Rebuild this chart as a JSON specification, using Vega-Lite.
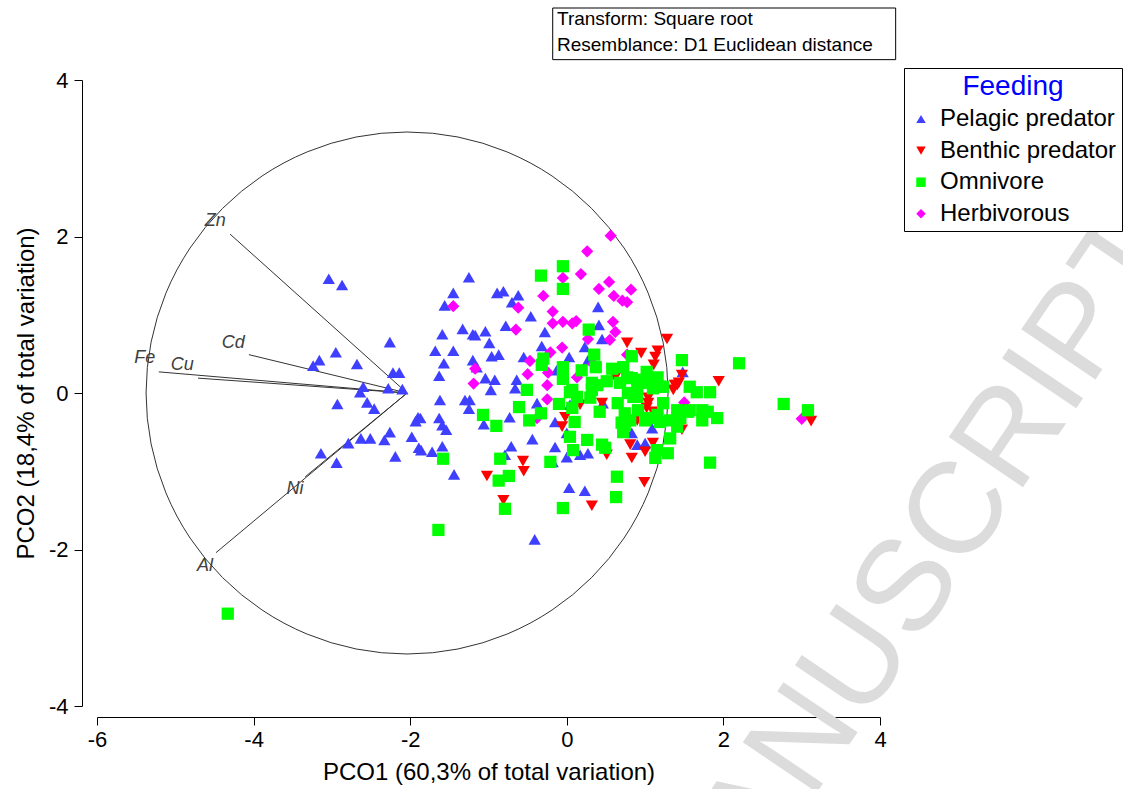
{
  "$schema": "https://vega.github.io/schema/vega-lite/v6.json",
  "width": 783,
  "height": 626,
  "autosize": {"type": "none"},
  "padding": {"left": 97, "top": 80, "right": 243, "bottom": 83},
  "background": "white",
  "config": {
    "view": {"stroke": null},
    "font": "Liberation Sans",
    "axis": {
      "grid": false,
      "domainColor": "black",
      "tickColor": "black",
      "labelColor": "black",
      "titleColor": "black",
      "labelFont": "Liberation Sans",
      "titleFont": "Liberation Sans",
      "labelFontSize": 22,
      "titleFontSize": 24,
      "titleFontWeight": "normal",
      "tickSize": 8,
      "labelFlush": false,
      "labelOverlap": false,
      "labelExpr": "toString(datum.value)"
    }
  },
  "datasets": {
    "pts": [
      {"x": -3.04, "y": 1.46, "g": "Pelagic predator"},
      {"x": -2.87, "y": 1.38, "g": "Pelagic predator"},
      {"x": -2.26, "y": 0.65, "g": "Pelagic predator"},
      {"x": -2.95, "y": 0.52, "g": "Pelagic predator"},
      {"x": -3.16, "y": 0.42, "g": "Pelagic predator"},
      {"x": -3.24, "y": 0.35, "g": "Pelagic predator"},
      {"x": -2.68, "y": 0.37, "g": "Pelagic predator"},
      {"x": -2.22, "y": 0.26, "g": "Pelagic predator"},
      {"x": -2.14, "y": 0.26, "g": "Pelagic predator"},
      {"x": -2.60, "y": 0.08, "g": "Pelagic predator"},
      {"x": -2.64, "y": 0.01, "g": "Pelagic predator"},
      {"x": -2.28, "y": 0.06, "g": "Pelagic predator"},
      {"x": -2.10, "y": 0.05, "g": "Pelagic predator"},
      {"x": -2.93, "y": -0.14, "g": "Pelagic predator"},
      {"x": -2.55, "y": -0.12, "g": "Pelagic predator"},
      {"x": -2.46, "y": -0.20, "g": "Pelagic predator"},
      {"x": -1.90, "y": -0.31, "g": "Pelagic predator"},
      {"x": -1.93, "y": -0.36, "g": "Pelagic predator"},
      {"x": -2.26, "y": -0.50, "g": "Pelagic predator"},
      {"x": -1.98, "y": -0.56, "g": "Pelagic predator"},
      {"x": -1.89, "y": -0.70, "g": "Pelagic predator"},
      {"x": -2.63, "y": -0.58, "g": "Pelagic predator"},
      {"x": -2.51, "y": -0.58, "g": "Pelagic predator"},
      {"x": -2.33, "y": -0.60, "g": "Pelagic predator"},
      {"x": -2.79, "y": -0.64, "g": "Pelagic predator"},
      {"x": -3.14, "y": -0.77, "g": "Pelagic predator"},
      {"x": -2.94, "y": -0.89, "g": "Pelagic predator"},
      {"x": -2.19, "y": -0.81, "g": "Pelagic predator"},
      {"x": -1.25, "y": 1.48, "g": "Pelagic predator"},
      {"x": -1.45, "y": 1.28, "g": "Pelagic predator"},
      {"x": -1.56, "y": 1.12, "g": "Pelagic predator"},
      {"x": -0.89, "y": 1.28, "g": "Pelagic predator"},
      {"x": -0.81, "y": 1.30, "g": "Pelagic predator"},
      {"x": -0.62, "y": 1.25, "g": "Pelagic predator"},
      {"x": -0.70, "y": 1.16, "g": "Pelagic predator"},
      {"x": -0.46, "y": 0.98, "g": "Pelagic predator"},
      {"x": -0.78, "y": 0.86, "g": "Pelagic predator"},
      {"x": -1.33, "y": 0.82, "g": "Pelagic predator"},
      {"x": -1.20, "y": 0.75, "g": "Pelagic predator"},
      {"x": -1.17, "y": 0.74, "g": "Pelagic predator"},
      {"x": -1.04, "y": 0.79, "g": "Pelagic predator"},
      {"x": -1.59, "y": 0.75, "g": "Pelagic predator"},
      {"x": -0.99, "y": 0.64, "g": "Pelagic predator"},
      {"x": -0.28, "y": 0.78, "g": "Pelagic predator"},
      {"x": -1.68, "y": 0.54, "g": "Pelagic predator"},
      {"x": -1.45, "y": 0.54, "g": "Pelagic predator"},
      {"x": -0.96, "y": 0.47, "g": "Pelagic predator"},
      {"x": -0.87, "y": 0.49, "g": "Pelagic predator"},
      {"x": -0.32, "y": 0.60, "g": "Pelagic predator"},
      {"x": -1.20, "y": 0.42, "g": "Pelagic predator"},
      {"x": -1.57, "y": 0.38, "g": "Pelagic predator"},
      {"x": -0.55, "y": 0.46, "g": "Pelagic predator"},
      {"x": -1.15, "y": 0.33, "g": "Pelagic predator"},
      {"x": -1.63, "y": 0.22, "g": "Pelagic predator"},
      {"x": -1.04, "y": 0.19, "g": "Pelagic predator"},
      {"x": -0.92, "y": 0.17, "g": "Pelagic predator"},
      {"x": -0.64, "y": 0.17, "g": "Pelagic predator"},
      {"x": -0.97, "y": 0.04, "g": "Pelagic predator"},
      {"x": -0.66, "y": 0.06, "g": "Pelagic predator"},
      {"x": -0.13, "y": 0.29, "g": "Pelagic predator"},
      {"x": 0.40, "y": 1.10, "g": "Pelagic predator"},
      {"x": 0.41, "y": 0.87, "g": "Pelagic predator"},
      {"x": 0.45, "y": 0.69, "g": "Pelagic predator"},
      {"x": 0.23, "y": 0.59, "g": "Pelagic predator"},
      {"x": 0.03, "y": 0.46, "g": "Pelagic predator"},
      {"x": 0.27, "y": 0.42, "g": "Pelagic predator"},
      {"x": 1.48, "y": 0.27, "g": "Pelagic predator"},
      {"x": -1.62, "y": -0.09, "g": "Pelagic predator"},
      {"x": -1.30, "y": -0.09, "g": "Pelagic predator"},
      {"x": -1.24, "y": -0.09, "g": "Pelagic predator"},
      {"x": -1.25, "y": -0.20, "g": "Pelagic predator"},
      {"x": -1.87, "y": -0.32, "g": "Pelagic predator"},
      {"x": -1.63, "y": -0.32, "g": "Pelagic predator"},
      {"x": -1.59, "y": -0.41, "g": "Pelagic predator"},
      {"x": -1.54, "y": -0.47, "g": "Pelagic predator"},
      {"x": -1.06, "y": -0.40, "g": "Pelagic predator"},
      {"x": -0.73, "y": -0.31, "g": "Pelagic predator"},
      {"x": -0.38, "y": -0.13, "g": "Pelagic predator"},
      {"x": -0.44, "y": -0.59, "g": "Pelagic predator"},
      {"x": -0.71, "y": -0.68, "g": "Pelagic predator"},
      {"x": -0.79, "y": -0.79, "g": "Pelagic predator"},
      {"x": -1.59, "y": -0.68, "g": "Pelagic predator"},
      {"x": -1.72, "y": -0.75, "g": "Pelagic predator"},
      {"x": -1.86, "y": -0.73, "g": "Pelagic predator"},
      {"x": -1.44, "y": -1.04, "g": "Pelagic predator"},
      {"x": -0.15, "y": -0.37, "g": "Pelagic predator"},
      {"x": -0.15, "y": -0.69, "g": "Pelagic predator"},
      {"x": -0.18, "y": -0.88, "g": "Pelagic predator"},
      {"x": -0.41, "y": -1.87, "g": "Pelagic predator"},
      {"x": 0.04, "y": -0.15, "g": "Pelagic predator"},
      {"x": 0.46, "y": -0.13, "g": "Pelagic predator"},
      {"x": 0.00, "y": -0.51, "g": "Pelagic predator"},
      {"x": 0.00, "y": -0.82, "g": "Pelagic predator"},
      {"x": 0.17, "y": -0.79, "g": "Pelagic predator"},
      {"x": 0.27, "y": -0.77, "g": "Pelagic predator"},
      {"x": 0.90, "y": -0.66, "g": "Pelagic predator"},
      {"x": 0.03, "y": -1.21, "g": "Pelagic predator"},
      {"x": 0.23, "y": -1.25, "g": "Pelagic predator"},
      {"x": 1.09, "y": -0.45, "g": "Pelagic predator"},
      {"x": 0.83, "y": -0.51, "g": "Pelagic predator"},
      {"x": 1.00, "y": -0.64, "g": "Pelagic predator"},
      {"x": -1.45, "y": 1.11, "g": "Herbivorous"},
      {"x": -0.30, "y": 1.24, "g": "Herbivorous"},
      {"x": -0.62, "y": 1.09, "g": "Herbivorous"},
      {"x": -0.18, "y": 1.04, "g": "Herbivorous"},
      {"x": -0.18, "y": 0.89, "g": "Herbivorous"},
      {"x": -0.05, "y": 0.91, "g": "Herbivorous"},
      {"x": -0.65, "y": 0.81, "g": "Herbivorous"},
      {"x": -0.21, "y": 0.52, "g": "Herbivorous"},
      {"x": -0.06, "y": 0.58, "g": "Herbivorous"},
      {"x": -0.47, "y": 0.41, "g": "Herbivorous"},
      {"x": -1.17, "y": 0.31, "g": "Herbivorous"},
      {"x": -0.50, "y": 0.24, "g": "Herbivorous"},
      {"x": -0.24, "y": 0.26, "g": "Herbivorous"},
      {"x": -1.19, "y": 0.12, "g": "Herbivorous"},
      {"x": -0.25, "y": 0.10, "g": "Herbivorous"},
      {"x": -0.05, "y": 1.47, "g": "Herbivorous"},
      {"x": 0.56, "y": 2.01, "g": "Herbivorous"},
      {"x": 0.26, "y": 1.81, "g": "Herbivorous"},
      {"x": 0.18, "y": 1.52, "g": "Herbivorous"},
      {"x": 0.54, "y": 1.42, "g": "Herbivorous"},
      {"x": 0.41, "y": 1.33, "g": "Herbivorous"},
      {"x": 0.82, "y": 1.32, "g": "Herbivorous"},
      {"x": 0.60, "y": 1.24, "g": "Herbivorous"},
      {"x": 0.71, "y": 1.18, "g": "Herbivorous"},
      {"x": 0.77, "y": 1.16, "g": "Herbivorous"},
      {"x": 0.59, "y": 0.91, "g": "Herbivorous"},
      {"x": 0.07, "y": 0.89, "g": "Herbivorous"},
      {"x": 0.12, "y": 0.92, "g": "Herbivorous"},
      {"x": 0.62, "y": 0.78, "g": "Herbivorous"},
      {"x": 0.55, "y": 0.68, "g": "Herbivorous"},
      {"x": 0.27, "y": 0.69, "g": "Herbivorous"},
      {"x": 0.34, "y": 0.37, "g": "Herbivorous"},
      {"x": 0.13, "y": 0.20, "g": "Herbivorous"},
      {"x": 0.77, "y": 0.49, "g": "Herbivorous"},
      {"x": 1.50, "y": -0.12, "g": "Herbivorous"},
      {"x": -0.25, "y": -0.08, "g": "Herbivorous"},
      {"x": -0.38, "y": -0.32, "g": "Herbivorous"},
      {"x": 3.00, "y": -0.33, "g": "Herbivorous"},
      {"x": 0.77, "y": 0.64, "g": "Benthic predator"},
      {"x": 1.28, "y": 0.69, "g": "Benthic predator"},
      {"x": 0.95, "y": 0.51, "g": "Benthic predator"},
      {"x": 1.16, "y": 0.54, "g": "Benthic predator"},
      {"x": 1.13, "y": 0.46, "g": "Benthic predator"},
      {"x": 1.11, "y": 0.36, "g": "Benthic predator"},
      {"x": 0.62, "y": 0.20, "g": "Benthic predator"},
      {"x": 1.47, "y": 0.23, "g": "Benthic predator"},
      {"x": 1.38, "y": 0.10, "g": "Benthic predator"},
      {"x": 1.43, "y": 0.13, "g": "Benthic predator"},
      {"x": 1.94, "y": 0.15, "g": "Benthic predator"},
      {"x": 0.83, "y": -0.06, "g": "Benthic predator"},
      {"x": 1.04, "y": -0.06, "g": "Benthic predator"},
      {"x": 0.45, "y": -0.13, "g": "Benthic predator"},
      {"x": 1.02, "y": -0.19, "g": "Benthic predator"},
      {"x": 1.10, "y": -0.24, "g": "Benthic predator"},
      {"x": 0.90, "y": -0.35, "g": "Benthic predator"},
      {"x": 0.81, "y": -0.66, "g": "Benthic predator"},
      {"x": 1.00, "y": -0.75, "g": "Benthic predator"},
      {"x": 1.10, "y": -0.64, "g": "Benthic predator"},
      {"x": 0.51, "y": -0.79, "g": "Benthic predator"},
      {"x": 0.83, "y": -0.83, "g": "Benthic predator"},
      {"x": 1.41, "y": 0.10, "g": "Benthic predator"},
      {"x": 1.36, "y": 0.04, "g": "Benthic predator"},
      {"x": 1.47, "y": -0.47, "g": "Benthic predator"},
      {"x": -0.02, "y": -0.31, "g": "Benthic predator"},
      {"x": 0.17, "y": -0.15, "g": "Benthic predator"},
      {"x": -0.06, "y": -0.43, "g": "Benthic predator"},
      {"x": 0.99, "y": -1.14, "g": "Benthic predator"},
      {"x": 0.32, "y": -1.44, "g": "Benthic predator"},
      {"x": 0.93, "y": -0.24, "g": "Benthic predator"},
      {"x": 1.04, "y": -0.13, "g": "Benthic predator"},
      {"x": -0.56, "y": -0.87, "g": "Benthic predator"},
      {"x": -0.55, "y": -1.00, "g": "Benthic predator"},
      {"x": -1.02, "y": -1.06, "g": "Benthic predator"},
      {"x": -0.81, "y": -1.37, "g": "Benthic predator"},
      {"x": 3.12, "y": -0.36, "g": "Benthic predator"},
      {"x": -0.33, "y": 1.50, "g": "Omnivore"},
      {"x": -0.05, "y": 1.62, "g": "Omnivore"},
      {"x": -0.05, "y": 1.33, "g": "Omnivore"},
      {"x": -0.30, "y": 0.44, "g": "Omnivore"},
      {"x": -0.32, "y": 0.36, "g": "Omnivore"},
      {"x": -0.05, "y": 0.33, "g": "Omnivore"},
      {"x": -0.05, "y": 0.18, "g": "Omnivore"},
      {"x": -0.51, "y": 0.04, "g": "Omnivore"},
      {"x": 0.28, "y": 0.81, "g": "Omnivore"},
      {"x": 0.35, "y": 0.49, "g": "Omnivore"},
      {"x": 0.37, "y": 0.33, "g": "Omnivore"},
      {"x": 0.19, "y": 0.29, "g": "Omnivore"},
      {"x": 0.58, "y": 0.31, "g": "Omnivore"},
      {"x": 0.51, "y": 0.15, "g": "Omnivore"},
      {"x": 0.32, "y": 0.13, "g": "Omnivore"},
      {"x": 0.07, "y": 0.04, "g": "Omnivore"},
      {"x": 0.83, "y": 0.47, "g": "Omnivore"},
      {"x": 0.72, "y": 0.33, "g": "Omnivore"},
      {"x": 0.77, "y": 0.20, "g": "Omnivore"},
      {"x": 0.68, "y": 0.13, "g": "Omnivore"},
      {"x": 1.02, "y": 0.27, "g": "Omnivore"},
      {"x": 1.02, "y": 0.13, "g": "Omnivore"},
      {"x": 1.16, "y": 0.20, "g": "Omnivore"},
      {"x": 1.19, "y": 0.08, "g": "Omnivore"},
      {"x": 1.47, "y": 0.42, "g": "Omnivore"},
      {"x": 1.57, "y": 0.08, "g": "Omnivore"},
      {"x": 0.93, "y": 0.17, "g": "Omnivore"},
      {"x": 2.20, "y": 0.38, "g": "Omnivore"},
      {"x": 1.83, "y": 0.01, "g": "Omnivore"},
      {"x": 1.66, "y": 0.01, "g": "Omnivore"},
      {"x": 0.83, "y": 0.19, "g": "Omnivore"},
      {"x": 0.90, "y": 0.10, "g": "Omnivore"},
      {"x": 0.39, "y": 0.10, "g": "Omnivore"},
      {"x": 0.78, "y": 0.00, "g": "Omnivore"},
      {"x": 0.90, "y": -0.05, "g": "Omnivore"},
      {"x": 0.65, "y": -0.13, "g": "Omnivore"},
      {"x": 0.42, "y": -0.24, "g": "Omnivore"},
      {"x": 0.74, "y": -0.26, "g": "Omnivore"},
      {"x": 0.91, "y": -0.22, "g": "Omnivore"},
      {"x": 1.06, "y": -0.32, "g": "Omnivore"},
      {"x": 1.16, "y": -0.28, "g": "Omnivore"},
      {"x": 0.70, "y": -0.38, "g": "Omnivore"},
      {"x": 0.81, "y": -0.35, "g": "Omnivore"},
      {"x": 1.00, "y": -0.35, "g": "Omnivore"},
      {"x": 0.72, "y": -0.50, "g": "Omnivore"},
      {"x": 0.45, "y": -0.66, "g": "Omnivore"},
      {"x": 0.49, "y": -0.70, "g": "Omnivore"},
      {"x": 1.15, "y": -0.73, "g": "Omnivore"},
      {"x": 1.13, "y": -0.83, "g": "Omnivore"},
      {"x": 1.23, "y": 0.08, "g": "Omnivore"},
      {"x": 1.23, "y": -0.13, "g": "Omnivore"},
      {"x": 1.41, "y": -0.22, "g": "Omnivore"},
      {"x": 1.55, "y": -0.24, "g": "Omnivore"},
      {"x": 1.73, "y": -0.22, "g": "Omnivore"},
      {"x": 1.80, "y": -0.24, "g": "Omnivore"},
      {"x": 1.73, "y": -0.35, "g": "Omnivore"},
      {"x": 1.92, "y": -0.32, "g": "Omnivore"},
      {"x": 1.32, "y": -0.35, "g": "Omnivore"},
      {"x": 1.41, "y": -0.43, "g": "Omnivore"},
      {"x": 1.32, "y": -0.58, "g": "Omnivore"},
      {"x": 1.29, "y": -0.77, "g": "Omnivore"},
      {"x": 1.83, "y": -0.89, "g": "Omnivore"},
      {"x": 0.04, "y": 0.01, "g": "Omnivore"},
      {"x": 0.13, "y": -0.05, "g": "Omnivore"},
      {"x": 0.32, "y": 0.04, "g": "Omnivore"},
      {"x": 0.30, "y": -0.06, "g": "Omnivore"},
      {"x": 0.07, "y": -0.19, "g": "Omnivore"},
      {"x": 0.10, "y": -0.37, "g": "Omnivore"},
      {"x": 0.04, "y": -0.56, "g": "Omnivore"},
      {"x": 0.26, "y": -0.60, "g": "Omnivore"},
      {"x": 0.08, "y": -0.73, "g": "Omnivore"},
      {"x": 0.64, "y": -1.07, "g": "Omnivore"},
      {"x": 0.63, "y": -1.33, "g": "Omnivore"},
      {"x": -0.05, "y": -1.47, "g": "Omnivore"},
      {"x": 1.10, "y": 0.06, "g": "Omnivore"},
      {"x": 0.74, "y": -0.41, "g": "Omnivore"},
      {"x": 1.19, "y": -0.37, "g": "Omnivore"},
      {"x": 1.45, "y": -0.32, "g": "Omnivore"},
      {"x": 0.85, "y": -0.05, "g": "Omnivore"},
      {"x": 1.57, "y": -0.22, "g": "Omnivore"},
      {"x": -0.61, "y": -0.18, "g": "Omnivore"},
      {"x": -1.07, "y": -0.28, "g": "Omnivore"},
      {"x": -0.90, "y": -0.42, "g": "Omnivore"},
      {"x": -0.48, "y": -0.35, "g": "Omnivore"},
      {"x": -0.33, "y": -0.26, "g": "Omnivore"},
      {"x": -0.10, "y": -0.14, "g": "Omnivore"},
      {"x": -1.58, "y": -0.84, "g": "Omnivore"},
      {"x": -0.85, "y": -0.84, "g": "Omnivore"},
      {"x": -0.21, "y": -0.88, "g": "Omnivore"},
      {"x": -0.74, "y": -1.06, "g": "Omnivore"},
      {"x": -0.87, "y": -1.12, "g": "Omnivore"},
      {"x": -0.79, "y": -1.48, "g": "Omnivore"},
      {"x": -1.64, "y": -1.75, "g": "Omnivore"},
      {"x": 2.77, "y": -0.14, "g": "Omnivore"},
      {"x": 3.08, "y": -0.22, "g": "Omnivore"},
      {"x": -4.33, "y": -2.82, "g": "Omnivore"}
    ],
    "vec": [
      {"name": "Zn", "x": -2.04, "y": 0, "xe": -4.30, "ye": 2.03},
      {"name": "Cd", "x": -2.04, "y": 0, "xe": -4.06, "ye": 0.49},
      {"name": "Fe", "x": -2.04, "y": 0, "xe": -5.21, "ye": 0.27},
      {"name": "Cu", "x": -2.04, "y": 0, "xe": -4.71, "ye": 0.19},
      {"name": "Ni", "x": -2.04, "y": 0, "xe": -3.34, "ye": -1.07},
      {"name": "Al", "x": -2.04, "y": 0, "xe": -4.48, "ye": -2.04}
    ],
    "lab": [
      {"name": "Zn", "x": -4.49, "y": 2.20},
      {"name": "Cd", "x": -4.26, "y": 0.64},
      {"name": "Fe", "x": -5.39, "y": 0.45},
      {"name": "Cu", "x": -4.91, "y": 0.36},
      {"name": "Ni", "x": -3.47, "y": -1.23},
      {"name": "Al", "x": -4.62, "y": -2.21}
    ]
  },
  "encoding": {
    "x": {
      "field": "x", "type": "quantitative",
      "scale": {"domain": [-6, 4], "nice": false, "zero": false},
      "axis": {"values": [-6, -4, -2, 0, 2, 4], "title": "PCO1 (60,3% of total variation)", "offset": 11, "labelPadding": 4, "titlePadding": 10}
    },
    "y": {
      "field": "y", "type": "quantitative",
      "scale": {"domain": [-4, 4], "nice": false, "zero": false},
      "axis": {"values": [-4, -2, 0, 2, 4], "title": "PCO2 (18,4% of total variation)", "offset": 15, "labelPadding": 6, "titlePadding": 10}
    }
  },
  "layer": [
    {
      "data": {"values": [{"t": "ACCEPTED MANUSCRIPT", "x": 7.45, "y": 2.1}]},
      "mark": {"type": "text", "angle": -56, "align": "right", "baseline": "middle", "fontSize": 130, "color": "#dcdcdc", "font": "Liberation Sans"},
      "encoding": {"text": {"field": "t"}}
    },
    {
      "data": {"values": [{"x": -2.04, "y": 0}]},
      "mark": {"type": "point", "shape": "circle", "size": 272484, "filled": false, "stroke": "#333333", "strokeWidth": 1, "opacity": 1}
    },
    {
      "data": {"name": "vec"},
      "mark": {"type": "rule", "color": "#333333", "strokeWidth": 1},
      "encoding": {
        "x2": {"field": "xe"},
        "y2": {"field": "ye"}
      }
    },
    {
      "data": {"name": "lab"},
      "mark": {"type": "text", "fontStyle": "italic", "fontSize": 18, "color": "#404040", "font": "Liberation Sans"},
      "encoding": {"text": {"field": "name"}}
    },
    {
      "data": {"name": "pts"},
      "mark": {"type": "point", "filled": true, "opacity": 1, "size": 150, "strokeWidth": 0},
      "encoding": {
        "color": {
          "field": "g", "type": "nominal",
          "scale": {"domain": ["Pelagic predator", "Benthic predator", "Omnivore", "Herbivorous"], "range": ["#3f3fff", "#ff0000", "#00ff00", "#ff00ff"]},
          "legend": {"title": "Feeding", "orient": "none", "legendX": 807, "legendY": -12, "strokeColor": "black", "fillColor": "white", "padding": 5, "titleFontSize": 28, "titleColor": "#0000ff", "titleFontWeight": "normal", "titleAnchor": "middle", "titlePadding": 6, "titleFont": "Liberation Sans", "labelFont": "Liberation Sans", "labelFontSize": 24, "labelColor": "black", "labelLimit": 400, "symbolSize": 90, "rowPadding": 7.6, "labelOffset": 7, "symbolStrokeWidth": 0, "symbolOpacity": 1}
        },
        "shape": {
          "field": "g", "type": "nominal",
          "scale": {"domain": ["Pelagic predator", "Benthic predator", "Omnivore", "Herbivorous"], "range": ["triangle-up", "triangle-down", "square", "diamond"]},
          "legend": {"title": "Feeding", "orient": "none", "legendX": 807, "legendY": -12, "strokeColor": "black", "fillColor": "white", "padding": 5, "titleFontSize": 28, "titleColor": "#0000ff", "titleFontWeight": "normal", "titleAnchor": "middle", "titlePadding": 6, "titleFont": "Liberation Sans", "labelFont": "Liberation Sans", "labelFontSize": 24, "labelColor": "black", "labelLimit": 400, "symbolSize": 90, "rowPadding": 7.6, "labelOffset": 7, "symbolStrokeWidth": 0, "symbolOpacity": 1}
        }
      }
    },
    {
      "data": {"values": [{"x": -0.18, "xe": 4.20, "y": 4.92, "ye": 4.26}]},
      "mark": {"type": "rect", "fill": "white", "stroke": "black", "strokeWidth": 1},
      "encoding": {
        "x2": {"field": "xe"},
        "y2": {"field": "ye"}
      }
    },
    {
      "data": {"values": [{"t": "Transform: Square root", "x": -0.125, "y": 4.78}, {"t": "Resemblance: D1 Euclidean distance", "x": -0.125, "y": 4.45}]},
      "mark": {"type": "text", "align": "left", "baseline": "middle", "fontSize": 19, "color": "black", "font": "Liberation Sans"},
      "encoding": {"text": {"field": "t"}}
    }
  ]
}
